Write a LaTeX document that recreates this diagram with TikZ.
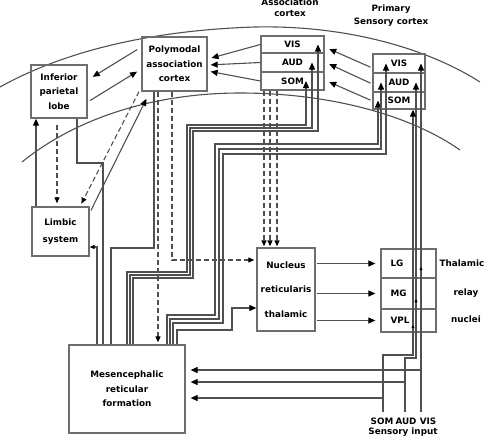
\documentclass[tikz,border=0pt]{standalone}
\usepackage{fontspec}
\setmainfont{DejaVu Sans}
\usetikzlibrary{arrows.meta,decorations.markings}
\definecolor{wiregray}{RGB}{80,80,80}
\definecolor{framegray}{RGB}{110,110,110}
\tikzstyle{box}=[draw=framegray, line width=1.3pt, inner sep=0pt, align=center, font=\fontsize{8.8}{14.5}\selectfont\bfseries]
\tikzstyle{cell}=[draw=framegray, line width=1.3pt, inner sep=0pt, font=\fontsize{8.8}{10}\selectfont\bfseries]
\tikzstyle{tag}=[inner sep=0pt, align=center, font=\fontsize{8.8}{12}\selectfont\bfseries]
\tikzset{wire/.style={draw=wiregray, line width=1.1pt}}
\tikzset{sig/.style={wire, -{Triangle[length=7pt,width=6pt,color=black]}}}
\tikzset{dsig/.style={wire, dash pattern=on 5pt off 3pt, -{Triangle[length=6pt,width=5pt,color=black]}}}
\tikzset{tick at/.style={postaction={decorate, decoration={markings, mark=at position #1 with {\arrow{Triangle[length=3pt,width=3pt,color=black]}}}}}}

\begin{document}
\begin{tikzpicture}[x=1pt,y=-1pt]
  \useasboundingbox (0,0) rectangle (486,437);

  %% cortex outlines
  \draw[wire] (0,87) .. controls (70,48) and (160,30) .. (255,27) .. controls (350,25) and (430,50) .. (480,82);
  \draw[wire] (22,162) .. controls (80,115) and (160,93) .. (240,93) .. controls (330,93) and (410,115) .. (460,150);

  %% boxes
  \draw (59,91.5) node[box, minimum width=56pt, minimum height=53pt] (IPL) {Inferior\\parietal\\lobe};
  \draw (174.5,64) node[box, minimum width=65pt, minimum height=54pt] (Poly) {Polymodal\\association\\cortex};
  \draw (60.5,231.5) node[box, minimum width=57pt, minimum height=49pt, font=\fontsize{8.8}{17}\selectfont\bfseries] (Limbic) {Limbic\\system};
  \draw (127,389) node[box, minimum width=116pt, minimum height=88pt] (Meso) {Mesencephalic\\reticular\\formation};
  \draw (286,289.5) node[box, minimum width=58pt, minimum height=83pt, font=\fontsize{8.8}{24.5}\selectfont\bfseries] (Nuc) {Nucleus\\reticularis\\thalamic};

  \draw (292.5,44.5) node[cell, minimum width=63pt, minimum height=17pt] (AVIS) {VIS};
  \draw (292.5,62.5) node[cell, minimum width=63pt, minimum height=19pt] (AAUD) {AUD};
  \draw (292.5,81) node[cell, minimum width=63pt, minimum height=18pt] (ASOM) {SOM};

  \draw (399,63.5) node[cell, minimum width=52pt, minimum height=19pt] (PVIS) {VIS};
  \draw (399,82.5) node[cell, minimum width=52pt, minimum height=19pt] (PAUD) {AUD};
  \draw (399,100.5) node[cell, minimum width=52pt, minimum height=17pt] (PSOM) {SOM};

  \draw (408.5,263.5) node[cell, minimum width=55pt, minimum height=29pt, text width=36pt, align=left] (LG) {LG};
  \draw (408.5,293.5) node[cell, minimum width=55pt, minimum height=31pt, text width=36pt, align=left] (MG) {MG};
  \draw (408.5,320.5) node[cell, minimum width=55pt, minimum height=23pt, text width=36pt, align=left] (VPL) {VPL};

  %% labels
  \draw (290,8) node[tag, font=\fontsize{8.8}{11}\selectfont\bfseries] (asso) {Association\\cortex};
  \draw (391,15.5) node[tag, font=\fontsize{8.8}{13}\selectfont\bfseries] (prim) {Primary\\Sensory cortex};
  \draw (462,263) node[tag] (thal1) {Thalamic};
  \draw (466,293) node[tag] (thal2) {relay};
  \draw (466,319) node[tag] (thal3) {nuclei};
  \draw (382,421) node[tag] (somlbl) {SOM};
  \draw (406,421) node[tag] (audlbl) {AUD};
  \draw (428,421) node[tag] (vislbl) {VIS};
  \draw (403,432) node[tag] (sensin) {Sensory input};

  %% cortico-cortical
  \draw[sig, shorten <=5pt, shorten >=6pt] (Poly.west |- 0,47) -- (IPL.east |- 0,80);
  \draw[sig, shorten <=3pt, shorten >=5pt] (IPL.east |- 0,102) -- (Poly.west |- 0,69);
  \draw[sig, shorten >=4pt] (AVIS.west) -- (Poly.east |- 0,59);
  \draw[sig, shorten >=3pt] (AAUD.west) -- (Poly.east |- 0,65);
  \draw[sig, shorten >=3pt] (ASOM.west) -- (Poly.east |- 0,71);
  \draw[sig, shorten <=2pt, shorten >=5pt] (PVIS.west |- 0,68) -- (AVIS.east |- 0,47);
  \draw[sig, shorten <=2pt, shorten >=5pt] (PAUD.west |- 0,84) -- (AAUD.east |- 0,62);
  \draw[sig, shorten <=2pt, shorten >=5pt] (PSOM.west |- 0,101) -- (ASOM.east |- 0,80);

  %% limbic loop
  \draw[dsig, shorten <=6pt, shorten >=3pt] (IPL.south -| 57,0) -- (Limbic.north -| 57,0);
  \draw[dsig, shorten >=3pt] (Poly.south -| 139,0) -- (Limbic.north -| 80,0);
  \draw[sig, shorten <=3pt, shorten >=8pt] (Limbic.east |- 0,213) -- (Poly.south -| 150,0);
  \draw[sig] (Limbic.north -| 36,0) -- (IPL.south -| 36,0);

  %% reticular links
  \draw[wire] (IPL.south -| 77,0) -- (77,163) -- (103,163) -- (Meso.north -| 103,0);
  \draw[wire, -{Triangle[length=5pt,width=4pt,color=black]}] (Meso.north -| 97,0) -- (97,247) -- (Limbic.east |- 0,247);
  \draw[wire] (Poly.south -| 154,0) -- (154,248) -- (111,248) -- (Meso.north -| 111,0);
  \draw[dsig, shorten >=2pt] (Poly.south -| 158,0) -- (Meso.north -| 158,0);
  \draw[dsig, shorten >=2pt] (Poly.south -| 172,0) -- (172,260) -- (Nuc.west |- 0,260);
  \draw[dsig, shorten >=1pt] (ASOM.south -| 264,0) -- (Nuc.north -| 264,0);
  \draw[dsig, shorten >=1pt] (ASOM.south -| 270,0) -- (Nuc.north -| 270,0);
  \draw[dsig, shorten >=1pt] (ASOM.south -| 277,0) -- (Nuc.north -| 277,0);

  %% ascending bundles
  \draw[sig] (Meso.north -| 127,0) -- (127,272) -- (187,272) -- (187,125) -- (306,125) -- (ASOM.center -| 306,0);
  \draw[sig] (Meso.north -| 130,0) -- (130,275) -- (190,275) -- (190,128) -- (312,128) -- (AAUD.center -| 312,0);
  \draw[sig] (Meso.north -| 133,0) -- (133,278) -- (193,278) -- (193,131) -- (318,131) -- (AVIS.center -| 318,0);
  \draw[sig] (Meso.north -| 167,0) -- (167,315) -- (215,315) -- (215,144) -- (378,144) -- (PSOM.center -| 378,0);
  \draw[sig] (Meso.north -| 170,0) -- (170,319) -- (219,319) -- (219,149) -- (381,149) -- (PAUD.center -| 381,0);
  \draw[sig] (Meso.north -| 173,0) -- (173,323) -- (223,323) -- (223,154) -- (386,154) -- (PVIS.center -| 386,0);
  \draw[sig] (Meso.north -| 177,0) -- (177,330) -- (232,330) -- (232,308) -- (Nuc.west |- 0,308);

  %% thalamic relay
  \draw[sig, shorten <=1pt, shorten >=5pt] (Nuc.east |- LG.west) -- (LG.west);
  \draw[sig, shorten <=1pt, shorten >=5pt] (Nuc.east |- MG.west) -- (MG.west);
  \draw[sig, shorten <=1pt, shorten >=5pt] (Nuc.east |- VPL.west) -- (VPL.west);

  %% sensory input
  \coordinate (somin) at (383,412);
  \coordinate (audin) at (405,412);
  \coordinate (visin) at (421,412);
  \draw[sig, tick at=145pt] (visin) -- (PVIS.center -| 421,0);
  \draw[sig, tick at=124pt] (audin) -- (405,358) -- (416,358) -- (PAUD.center -| 416,0);
  \draw[sig, tick at=117pt] (somin) -- (383,355) -- (413,355) -- (PSOM.south -| 413,0);
  \draw[sig, shorten >=5pt] (visin |- 0,370) -- (Meso.east |- 0,370);
  \draw[sig, shorten >=5pt] (audin |- 0,382) -- (Meso.east |- 0,382);
  \draw[sig, shorten >=5pt] (somin |- 0,398) -- (Meso.east |- 0,398);
\end{tikzpicture}
\end{document}
